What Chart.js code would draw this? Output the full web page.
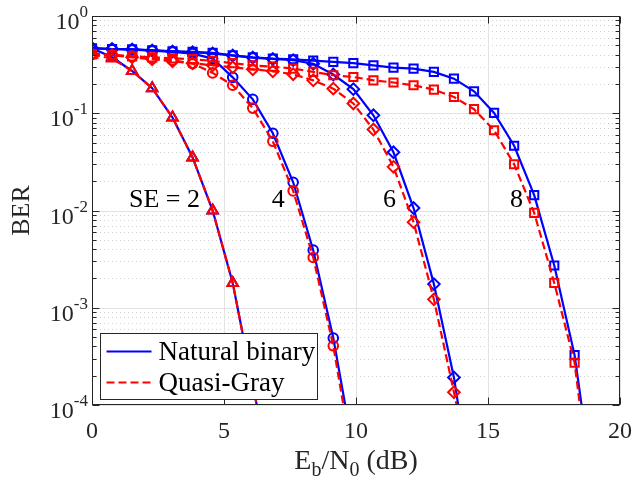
<!DOCTYPE html>
<html>
<head>
<meta charset="utf-8">
<script src="https://cdn.jsdelivr.net/npm/chart.js@4.4.0/dist/chart.umd.min.js"></script>
<style>
  html, body { margin: 0; padding: 0; background: #fff; }
  #wrap { width: 636px; height: 487px; }
</style>
</head>
<body>
<div id="wrap"><canvas id="berChart" width="636" height="487"></canvas></div>
<script>
// Eb/N0 points (dB), shared by every curve
const ebno = [0, 0.76, 1.52, 2.28, 3.05, 3.81, 4.57, 5.33, 6.09, 6.85, 7.62, 8.38, 9.14,
  9.90, 10.66, 11.42, 12.18, 12.95, 13.71, 14.47, 15.23, 15.99, 16.75, 17.51, 18.28, 19.04];

// BER, natural binary labelling
const natural2 = [0.466, 0.376, 0.272, 0.181, 0.0903, 0.0351, 0.0100, 0.00180, 1.6e-4, 1.5e-5];
const natural4 = [0.466, 0.458, 0.452, 0.440, 0.428, 0.410, 0.365, 0.234, 0.139, 0.0623,
  0.0195, 0.00391, 4.88e-4, 3.4e-5];
const natural6 = [0.466, 0.458, 0.453, 0.443, 0.432, 0.424, 0.413, 0.392, 0.374, 0.362,
  0.352, 0.323, 0.250, 0.177, 0.0953, 0.0397, 0.0106, 0.00175, 1.92e-4, 9e-6];
const natural8 = [0.466, 0.458, 0.455, 0.444, 0.434, 0.427, 0.417, 0.395, 0.376, 0.365,
  0.359, 0.348, 0.337, 0.327, 0.311, 0.295, 0.288, 0.266, 0.227, 0.168, 0.1007, 0.0463,
  0.0144, 0.00272, 3.26e-4, 1.1e-5];

// BER, quasi-Gray labelling
const quasi2 = [0.400, 0.365, 0.272, 0.181, 0.0903, 0.0351, 0.0100, 0.00180, 1.6e-4, 1.5e-5];
const quasi4 = [0.404, 0.395, 0.385, 0.367, 0.351, 0.324, 0.260, 0.194, 0.113, 0.0515,
  0.0159, 0.00329, 4.06e-4, 2.5e-5];
const quasi6 = [0.404, 0.395, 0.376, 0.359, 0.342, 0.327, 0.311, 0.297, 0.283, 0.270,
  0.252, 0.218, 0.179, 0.126, 0.0680, 0.0281, 0.00759, 0.00122, 1.35e-4, 1.4e-5];
const quasi8 = [0.404, 0.395, 0.385, 0.376, 0.367, 0.360, 0.345, 0.327, 0.311, 0.301,
  0.288, 0.266, 0.246, 0.236, 0.218, 0.207, 0.194, 0.175, 0.147, 0.110, 0.0669, 0.0299,
  0.00945, 0.00180, 2.72e-4, 6e-6];

const xTicks = [0, 5, 10, 15, 20];
const yExponents = [0, -1, -2, -3, -4];
const seLabels = ['SE = 2', '4', '6', '8'];
const legendLabels = ['Natural binary', 'Quasi-Gray'];

const BLUE = '#0000ff';
const RED = '#ff0000';
const INK = '#262626';
const SERIF = '"Liberation Serif", "Times New Roman", serif';

function curve(vals, color, dashed, style, radius) {
  return {
    data: vals.map((v, i) => ({ x: ebno[i], y: v })),
    borderColor: color,
    borderWidth: 2.2,
    borderDash: dashed ? [8, 4] : [],
    pointStyle: style,
    pointRadius: radius,
    pointBorderWidth: 2,
    pointBorderColor: color,
    pointBackgroundColor: 'rgba(0,0,0,0)',
    tension: 0,
    order: dashed ? 0 : 1
  };
}

const datasets = [
  curve(natural2, BLUE, false, 'triangle', 6),
  curve(natural4, BLUE, false, 'circle', 4.8),
  curve(natural6, BLUE, false, 'rectRot', 5.8),
  curve(natural8, BLUE, false, 'rect', 5.8),
  curve(quasi2, RED, true, 'triangle', 6),
  curve(quasi4, RED, true, 'circle', 4.8),
  curve(quasi6, RED, true, 'rectRot', 5.8),
  curve(quasi8, RED, true, 'rect', 5.8)
];

// MATLAB-like axes: grid, box, ticks, labels, annotations and legend
const matlabAxes = {
  id: 'matlabAxes',
  beforeDatasetsDraw(chart) {
    const { ctx, chartArea: a, scales: { x, y } } = chart;
    ctx.save();
    ctx.lineWidth = 1;
    // minor y grid (dotted)
    ctx.strokeStyle = '#cfcfcf';
    ctx.setLineDash([1, 3]);
    for (let e = -4; e < 0; e++) {
      for (let m = 2; m <= 9; m++) {
        const py = Math.round(y.getPixelForValue(m * Math.pow(10, e))) + 0.5;
        ctx.beginPath(); ctx.moveTo(a.left, py); ctx.lineTo(a.right, py); ctx.stroke();
      }
    }
    // major grid
    ctx.setLineDash([]);
    ctx.strokeStyle = '#e2e2e2';
    xTicks.forEach(t => {
      const px = Math.round(x.getPixelForValue(t)) + 0.5;
      ctx.beginPath(); ctx.moveTo(px, a.top); ctx.lineTo(px, a.bottom); ctx.stroke();
    });
    yExponents.forEach(e => {
      const py = Math.round(y.getPixelForValue(Math.pow(10, e))) + 0.5;
      ctx.beginPath(); ctx.moveTo(a.left, py); ctx.lineTo(a.right, py); ctx.stroke();
    });
    ctx.restore();
  },
  afterDatasetsDraw(chart) {
    const { ctx, chartArea: a, scales: { x, y } } = chart;
    ctx.save();
    ctx.strokeStyle = INK;
    ctx.fillStyle = INK;
    ctx.lineWidth = 1;
    const L = Math.round(a.left) + 0.5, R = Math.round(a.right) - 0.5;
    const T = Math.round(a.top) + 0.5, B = Math.round(a.bottom) - 0.5;
    ctx.strokeRect(L, T, R - L, B - T);

    // y ticks (both sides, inward)
    for (let e = -4; e <= 0; e++) {
      for (let m = 1; m <= (e === 0 ? 1 : 9); m++) {
        const py = Math.round(y.getPixelForValue(m * Math.pow(10, e))) + 0.5;
        const len = m === 1 ? 7 : 4;
        ctx.beginPath();
        ctx.moveTo(L, py); ctx.lineTo(L + len, py);
        ctx.moveTo(R, py); ctx.lineTo(R - len, py);
        ctx.stroke();
      }
    }
    // x ticks
    xTicks.forEach(t => {
      const px = Math.round(x.getPixelForValue(t)) + 0.5;
      ctx.beginPath();
      ctx.moveTo(px, B); ctx.lineTo(px, B - 7);
      ctx.moveTo(px, T); ctx.lineTo(px, T + 7);
      ctx.stroke();
    });

    // x tick labels
    ctx.font = '24px ' + SERIF;
    ctx.textAlign = 'center';
    ctx.textBaseline = 'alphabetic';
    xTicks.forEach(t => ctx.fillText(String(t), x.getPixelForValue(t), a.bottom + 33));

    // y tick labels 10^e
    yExponents.forEach(e => {
      const py = y.getPixelForValue(Math.pow(10, e));
      ctx.font = '17px ' + SERIF;
      const sw = ctx.measureText(String(e)).width;
      ctx.textAlign = 'left';
      ctx.fillText(String(e), a.left - 4 - sw, py + 1);
      ctx.font = '24px ' + SERIF;
      ctx.textAlign = 'right';
      ctx.fillText('10', a.left - 4 - sw, py + 13);
    });

    // y title
    ctx.save();
    ctx.translate(29, (a.top + a.bottom) / 2);
    ctx.rotate(-Math.PI / 2);
    ctx.font = '26px ' + SERIF;
    ctx.textAlign = 'center';
    ctx.fillText('BER', 0, 0);
    ctx.restore();

    // x title  E_b/N_0 (dB)
    const parts = [['E', 28, 0], ['b', 20, 7], ['/N', 28, 0], ['0', 20, 7], [' (dB)', 28, 0]];
    let total = 0;
    parts.forEach(p => { ctx.font = p[1] + 'px ' + SERIF; total += ctx.measureText(p[0]).width; });
    let cx = (a.left + a.right) / 2 - total / 2;
    const baseY = a.bottom + 64;
    ctx.textAlign = 'left';
    parts.forEach(p => {
      ctx.font = p[1] + 'px ' + SERIF;
      ctx.fillText(p[0], cx, baseY + p[2]);
      cx += ctx.measureText(p[0]).width;
    });

    // spectral efficiency annotations
    const annot = [[1.40, 0.0109], [6.81, 0.0109], [11.02, 0.0109], [15.83, 0.0109]];
    ctx.font = '26px ' + SERIF;
    ctx.fillStyle = '#000';
    seLabels.forEach((s, i) => {
      ctx.fillText(s, x.getPixelForValue(annot[i][0]), y.getPixelForValue(annot[i][1]));
    });

    // legend box
    const bx = 100.5, by = 333.5, bw = 217, bh = 66;
    ctx.fillStyle = '#fff';
    ctx.fillRect(bx, by, bw, bh);
    ctx.strokeStyle = INK;
    ctx.strokeRect(bx, by, bw, bh);
    const rows = [[by + 18, BLUE, []], [by + 49, RED, [8, 4]]];
    rows.forEach((r, i) => {
      ctx.strokeStyle = r[1];
      ctx.lineWidth = 2.2;
      ctx.setLineDash(r[2]);
      ctx.beginPath(); ctx.moveTo(bx + 6, r[0]); ctx.lineTo(bx + 51, r[0]); ctx.stroke();
      ctx.setLineDash([]);
      ctx.fillStyle = '#000';
      ctx.font = '27px ' + SERIF;
      ctx.textAlign = 'left';
      ctx.textBaseline = 'middle';
      ctx.fillText(legendLabels[i], bx + 58, r[0] + 1);
    });
    ctx.restore();
  }
};

new Chart(document.getElementById('berChart'), {
  type: 'line',
  data: { datasets },
  options: {
    responsive: false,
    animation: false,
    layout: { padding: { left: 92, top: 16, right: 16, bottom: 82 } },
    plugins: { legend: { display: false }, tooltip: { enabled: false } },
    scales: {
      x: {
        type: 'linear', min: 0, max: 20,
        ticks: { display: false },
        grid: { display: false, drawTicks: false },
        border: { display: false }
      },
      y: {
        type: 'logarithmic', min: 1e-4, max: 1,
        ticks: { display: false },
        grid: { display: false, drawTicks: false },
        border: { display: false }
      }
    }
  },
  plugins: [matlabAxes]
});
</script>
</body>
</html>
